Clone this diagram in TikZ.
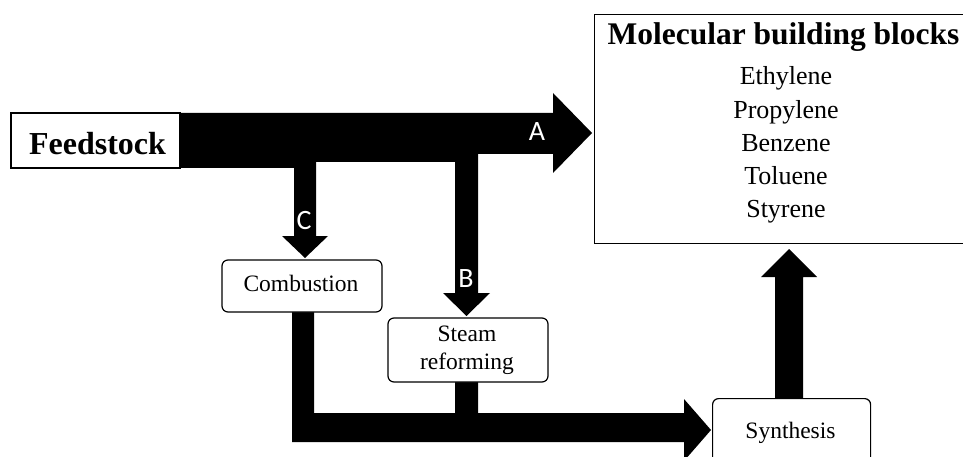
\documentclass[tikz,border=0pt]{standalone}
\usepackage{fontspec}
\setmainfont{Liberation Serif}
\newfontfamily\labfont{Carlito}
\begin{document}
\begin{tikzpicture}[x=1pt,y=-1pt,
  flow/.style={fill=black,draw=none},
  sbox/.style={draw=black,line width=1.2pt,fill=white,inner sep=0pt},
  rbox/.style={draw=black,line width=1.2pt,fill=white,rounded corners=6pt,inner sep=0pt},
  proctext/.style={font=\fontsize{23.5}{28}\selectfont,anchor=base,inner sep=0pt},
  listtext/.style={font=\fontsize{26}{30}\selectfont,anchor=base,inner sep=0pt},
  titletext/.style={font=\fontsize{31.5}{36}\selectfont\bfseries,anchor=base,inner sep=0pt},
  flowlabel/.style={font=\labfont\fontsize{28}{32}\selectfont,text=white,inner sep=0pt}
]
\useasboundingbox (0,0) rectangle (963,457);
\clip (0,0) rectangle (963,457);

% main feedstock flow with branches C and B
\path[flow] (180,113) -- (553,113) -- (553,93) -- (592,133) -- (553,173) -- (553,154)
  -- (478,154) -- (478,293) -- (490,293) -- (466.5,316) -- (443,293) -- (455,293)
  -- (455,162) -- (316,162) -- (316,236) -- (328,236) -- (305,258) -- (282,236)
  -- (294,236) -- (294,168) -- (180,168) -- cycle;

% combined flow to synthesis
\path[flow] (292,312) -- (314,312) -- (314,413) -- (455,413) -- (455,382) -- (478,382)
  -- (478,413) -- (684,413) -- (684,399) -- (711,430) -- (684,461) -- (684,442)
  -- (292,442) -- cycle;

% synthesis to building blocks
\path[flow] (775,398) -- (775,277) -- (761,277) -- (789,249) -- (817,277) -- (803,277)
  -- (803,398) -- cycle;

% boxes
\node[sbox,minimum width=169pt,minimum height=55pt] (feed) at (95.5,140.5) {};
\node[titletext,font=\fontsize{32}{36}\selectfont\bfseries] (feedtxt) at (97.5,155) {Feedstock};

\node[rbox,minimum width=160pt,minimum height=52pt] (comb) at (302,286) {};
\node[proctext] (combtxt) at (301,291) {Combustion};

\node[rbox,minimum width=160pt,minimum height=64pt] (steam) at (468,350) {};
\node[proctext] (steamtxt1) at (467,341) {Steam};
\node[proctext] (steamtxt2) at (467,369) {reforming};

\node[rbox,anchor=north west,minimum width=158pt,minimum height=80pt] (synth) at (712,398) {};
\node[proctext] (synthtxt) at (790.5,438) {Synthesis};

\node[sbox,anchor=north west,minimum width=390pt,minimum height=229pt] (mbb) at (594,14) {};
\node[titletext] (mbbtitle) at (783.5,45) {Molecular building blocks};
\node[listtext] (eth) at (786,85) {Ethylene};
\node[listtext] (pro) at (786,118.5) {Propylene};
\node[listtext] (ben) at (786,152) {Benzene};
\node[listtext] (tol) at (786,185) {Toluene};
\node[listtext] (sty) at (786,218) {Styrene};

% flow labels
\node[flowlabel] (labA) at (537,132) {A};
\node[flowlabel] (labB) at (466,279) {B};
\node[flowlabel] (labC) at (304,221) {C};
\end{tikzpicture}
\end{document}
